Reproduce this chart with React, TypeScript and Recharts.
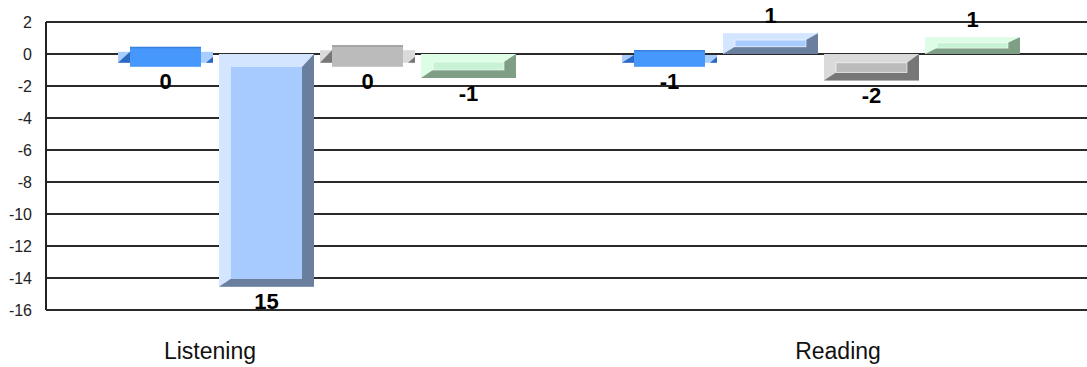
import { Bar, BarChart, CartesianGrid, LabelList, XAxis, YAxis } from "recharts";

const categories = ["Listening", "Reading"];

// [low, high] of each drawn bar
const seriesA = [[-0.8, 0.45], [-0.8, 0.25]];
const seriesB = [[-14.55, 0], [0, 1.3]];
const seriesC = [[-0.8, 0.55], [-1.65, 0]];
const seriesD = [[-1.5, 0], [0, 1.05]];

// value labels as printed on the chart
const labelsA = ["0", "-1"];
const labelsB = ["15", "1"];
const labelsC = ["0", "-2"];
const labelsD = ["-1", "1"];

const yTicks = [2, 0, -2, -4, -6, -8, -10, -12, -14, -16];

// category captions sit off the group centres in the original
const captionShift = [-107, 17];

const TONES = {
  a: { light: "#A9CDFF", mid: "#4698FC", dark: "#2C69C2" },
  b: { light: "#D3E5FF", mid: "#A8CBFF", dark: "#6A7E9E" },
  c: { light: "#DADADA", mid: "#BBBBBB", dark: "#777777" },
  d: { light: "#DDFDE7", mid: "#C7F3D4", dark: "#7E9E85" },
};

type Tone = { light: string; mid: string; dark: string };

const rows = categories.map((name, i) => ({
  name,
  a: seriesA[i],
  b: seriesB[i],
  c: seriesC[i],
  d: seriesD[i],
  la: labelsA[i],
  lb: labelsB[i],
  lc: labelsC[i],
  ld: labelsD[i],
}));

const pts = (arr: number[][]) => arr.map((p) => p.join(",")).join(" ");

function Bar3D(props: any) {
  const { x, y, width, height, tone, range } = props as {
    x: number;
    y: number;
    width: number;
    height: number;
    tone: Tone;
    range: number[];
  };
  if (x == null || y == null) return null;
  const x0 = x;
  const x1 = x + width;
  const y0 = Math.min(y, y + height);
  const y1 = Math.max(y, y + height);
  const h = y1 - y0;
  const crossing = range[0] < 0 && range[1] > 0;

  if (crossing) {
    // flat slab lying on the zero line
    const wing = 12;
    return (
      <g>
        <rect x={x0} y={y0 + 5} width={wing} height={h - 9} fill={tone.light} />
        <polygon
          points={pts([
            [x0, y1 - 4],
            [x0 + wing, y0 + 5],
            [x0 + wing, y1 - 4],
          ])}
          fill={tone.dark}
        />
        <rect x={x1 - wing} y={y0 + 5} width={wing} height={h - 9} fill={tone.light} />
        <polygon
          points={pts([
            [x1 - 7, y1 - 4],
            [x1, y1 - 10],
            [x1, y1 - 4],
          ])}
          fill={tone.dark}
        />
        <rect x={x0 + wing} y={y0} width={width - wing * 2} height={h} fill={tone.mid} />
        <rect x={x0 + wing} y={y0} width={width - wing * 2} height={1.5} fill={tone.dark} opacity={0.5} />
      </g>
    );
  }

  const L = 12;
  const R = 12;
  const T = Math.min(13, h * 0.33);
  const B = Math.min(8, h * 0.35);
  return (
    <g>
      <rect x={x0} y={y0} width={width} height={h} fill={tone.light} />
      <polygon
        points={pts([
          [x1, y0],
          [x1, y1],
          [x0, y1],
          [x0 + L, y1 - B],
          [x1 - R, y1 - B],
          [x1 - R, y0 + T],
        ])}
        fill={tone.dark}
      />
      <rect
        x={x0 + L}
        y={y0 + T}
        width={width - L - R}
        height={Math.max(0, h - T - B)}
        fill={tone.mid}
        stroke={h < 60 ? "#FFFFFF" : "none"}
        strokeOpacity={0.6}
        strokeWidth={1}
      />
    </g>
  );
}

function makeLabel(ranges: number[][]) {
  return (p: any) => {
    const { x, y, width, height, value, index } = p;
    const r = ranges[index];
    const below = Math.abs(r[0]) > Math.abs(r[1]);
    const top = Math.min(y, y + height);
    const bottom = Math.max(y, y + height);
    const cy = below ? bottom + 15 : top - 18;
    return (
      <text
        x={x + width / 2}
        y={cy}
        textAnchor="middle"
        dominantBaseline="central"
        fill="#000"
        fontFamily="'Liberation Sans', Arial, sans-serif"
        fontWeight="bold"
        fontSize={22}
      >
        {value}
      </text>
    );
  };
}

function CategoryTick(p: any) {
  const { x, y, payload, index } = p;
  return (
    <text
      x={x + (captionShift[index] ?? 0)}
      y={y}
      dy={41}
      textAnchor="middle"
      fill="#111"
      fontFamily="'Liberation Sans', Arial, sans-serif"
      fontSize={23}
    >
      {payload.value}
    </text>
  );
}

export default function App() {
  const series = [
    { key: "a", label: "la", ranges: seriesA, tone: TONES.a },
    { key: "b", label: "lb", ranges: seriesB, tone: TONES.b },
    { key: "c", label: "lc", ranges: seriesC, tone: TONES.c },
    { key: "d", label: "ld", ranges: seriesD, tone: TONES.d },
  ];
  return (
    <div style={{ position: "absolute", left: 0, top: 0, background: "#fff" }}>
      <BarChart
        width={1087}
        height={367}
        data={rows}
        margin={{ top: 22, right: 0, bottom: 0, left: 0 }}
        barSize={95}
        barGap={6}
      >
        <CartesianGrid vertical={false} stroke="#2a2a2a" strokeWidth={2} />
        <XAxis
          dataKey="name"
          axisLine={false}
          tickLine={false}
          height={57}
          padding={{ left: 19, right: 14 }}
          tick={<CategoryTick />}
          interval={0}
        />
        <YAxis
          domain={[-16, 2]}
          ticks={yTicks}
          interval={0}
          width={46}
          tickLine={false}
          tickSize={6}
          tickMargin={8}
          axisLine={{ stroke: "#222", strokeWidth: 2 }}
          tick={{ fill: "#222", fontSize: 16, fontFamily: "'Liberation Sans', Arial, sans-serif" }}
        />
        {series.map((s) => (
          <Bar
            key={s.key}
            dataKey={s.key}
            isAnimationActive={false}
            shape={(p: any) => <Bar3D {...p} tone={s.tone} range={s.ranges[p.index]} />}
          >
            <LabelList dataKey={s.label} content={makeLabel(s.ranges)} />
          </Bar>
        ))}
      </BarChart>
    </div>
  );
}
